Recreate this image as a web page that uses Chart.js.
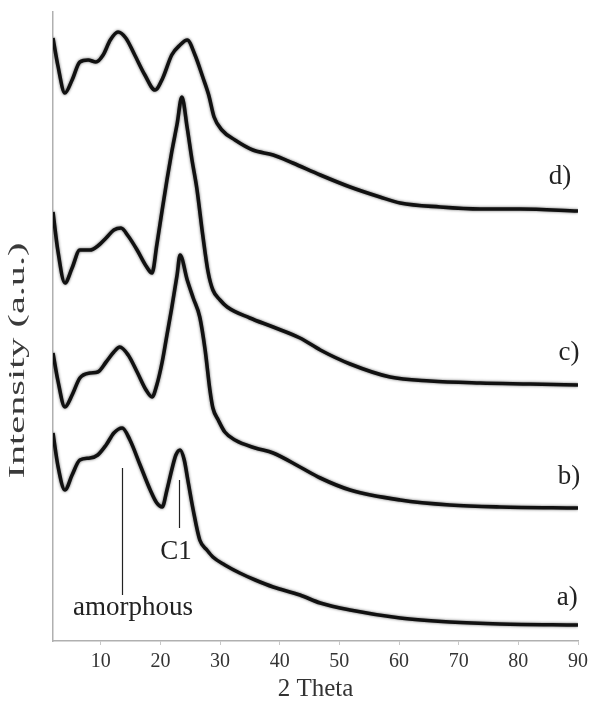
<!DOCTYPE html>
<html lang="en">
<head>
  <meta charset="UTF-8" />
  <title>DRX - 2 Theta</title>
  <script src="https://cdn.jsdelivr.net/npm/chart.js"></script>
  <style>
    body { margin: 0; background: #fff; }
    #caixa { width: 591px; height: 702px; }
  </style>
</head>
<body>
  <div id="caixa"><canvas id="grafico"></canvas></div>

<script>
  // valores (2 theta, intensidade em u.a.)
  const thetaA = [2.0, 2.8, 4.0, 5.2, 6.5, 8.2, 9.5, 10.9, 12.2, 13.6, 14.9, 16.6, 18.3, 19.4, 20.3, 21.1, 21.9, 22.6, 23.3, 24.0, 24.6, 25.5, 26.6, 27.8, 28.8, 30.8, 33.3, 35.9, 38.9, 43.4, 46.8, 51.8, 60.2, 68.5, 76.9, 90.0]
  const intA   = [208, 176, 151, 166, 181, 183, 186, 196, 208, 213, 201, 176, 151, 138, 134, 151, 171, 186, 191, 181, 161, 131, 101, 91, 84, 76, 68, 61, 54, 46, 38, 31, 23, 19, 17, 16]

  const thetaB = [2.0, 2.8, 4.0, 5.2, 6.5, 8.2, 9.5, 10.9, 12.2, 13.2, 14.6, 16.1, 17.6, 18.6, 19.4, 20.3, 21.1, 21.9, 22.8, 23.3, 24.5, 25.5, 26.6, 27.5, 28.3, 28.8, 29.7, 30.8, 32.5, 35.9, 38.9, 43.4, 46.8, 51.8, 60.2, 68.5, 76.9, 90.0]
  const intB   = [288, 261, 234, 246, 263, 268, 269, 279, 289, 294, 286, 269, 251, 244, 256, 279, 306, 333, 366, 386, 361, 343, 324, 291, 251, 233, 221, 209, 201, 193, 188, 174, 163, 151, 141, 136, 134, 133]

  const thetaC = [2.0, 2.8, 4.0, 5.2, 6.5, 8.2, 9.5, 10.9, 12.2, 13.4, 14.6, 16.1, 17.6, 18.6, 19.4, 20.3, 21.1, 21.9, 22.8, 23.6, 24.5, 25.3, 26.1, 27.1, 28.0, 28.8, 30.0, 31.2, 35.0, 38.9, 43.4, 46.8, 51.8, 58.5, 65.2, 73.6, 82.0, 90.0]
  const intC   = [429, 391, 358, 373, 391, 391, 395, 403, 411, 413, 405, 391, 375, 368, 396, 431, 461, 489, 517, 544, 513, 481, 453, 406, 369, 351, 341, 334, 323, 314, 303, 291, 277, 264, 260, 258, 257, 256]

  const thetaD = [2.0, 2.8, 4.0, 5.2, 6.5, 7.9, 9.2, 10.4, 11.6, 12.9, 14.2, 15.7, 17.4, 19.1, 20.4, 21.9, 23.3, 24.5, 25.8, 27.1, 28.1, 29.0, 30.3, 32.5, 35.5, 38.9, 42.2, 46.8, 51.8, 56.8, 60.2, 66.9, 73.6, 80.3, 90.0]
  const intD   = [603, 576, 548, 561, 579, 581, 579, 586, 601, 609, 603, 586, 566, 551, 563, 586, 596, 601, 586, 564, 546, 524, 511, 501, 491, 486, 478, 466, 454, 444, 438, 434, 432, 432, 430]

  const xTicks = [10, 20, 30, 40, 50, 60, 70, 80, 90]

  // rótulos das curvas (posição em 2 theta / intensidade)
  const rotulos      = ['a)', 'b)', 'c)', 'd)']
  const rotuloTheta  = [88.2, 88.5, 88.5, 87.0]
  const rotuloInt    = [43, 164, 288, 464]

  // marcações dos picos
  const picos        = ['amorphous', 'C1']
  const picoTheta    = [13.6, 23.1]
  const picoIntTopo  = [173, 161]
  const picoIntBase  = [46, 113]
  const picoTxtTheta = [15.4, 22.6]
  const picoTxtInt   = [33, 89]

  function montarPontos(xs, ys) {
    return xs.map((v, i) => ({ x: v, y: ys[i] }))
  }

  function serie(nome, xs, ys) {
    return {
      label: nome,
      data: montarPontos(xs, ys),
      borderColor: '#111',
      borderWidth: 3.6,
      pointRadius: 0,
      fill: false,
      cubicInterpolationMode: 'monotone'
    }
  }

  const fonteSerif = 'Liberation Serif'

  // sombra leve para imitar o traço "ruidoso" do original
  const sombra = {
    id: 'sombra',
    beforeDatasetDraw(chart) {
      const ctx = chart.ctx
      ctx.save()
      ctx.shadowColor = 'rgba(0,0,0,0.6)'
      ctx.shadowBlur = 3
    },
    afterDatasetDraw(chart) {
      chart.ctx.restore()
    }
  }

  const anotacoes = {
    id: 'anotacoes',
    afterDraw(chart) {
      const ctx = chart.ctx
      const sx = chart.scales.x
      const sy = chart.scales.y
      ctx.save()
      ctx.fillStyle = '#222'
      ctx.textAlign = 'center'
      ctx.textBaseline = 'middle'
      ctx.font = '27px "' + fonteSerif + '"'

      for (let i = 0; i < rotulos.length; i++) {
        ctx.fillText(rotulos[i], sx.getPixelForValue(rotuloTheta[i]), sy.getPixelForValue(rotuloInt[i]))
      }

      ctx.strokeStyle = '#222'
      ctx.lineWidth = 1.2
      for (let i = 0; i < picos.length; i++) {
        const px = Math.round(sx.getPixelForValue(picoTheta[i])) + 0.5
        ctx.beginPath()
        ctx.moveTo(px, sy.getPixelForValue(picoIntTopo[i]))
        ctx.lineTo(px, sy.getPixelForValue(picoIntBase[i]))
        ctx.stroke()
        ctx.fillText(picos[i], sx.getPixelForValue(picoTxtTheta[i]), sy.getPixelForValue(picoTxtInt[i]))
      }

      // título do eixo y (o original é bem alongado)
      const area = chart.chartArea
      ctx.translate(area.left - 35, (area.top + area.bottom) / 2 + 34)
      ctx.rotate(-Math.PI / 2)
      ctx.scale(1.75, 1)
      ctx.font = '23px "' + fonteSerif + '"'
      ctx.fillStyle = '#3a3a3a'
      ctx.fillText('Intensity (a.u.)', 0, 0)
      ctx.restore()
    }
  }

  new Chart(document.getElementById('grafico'), {
    type: 'line',
    data: {
      datasets: [
        serie('a', thetaA, intA),
        serie('b', thetaB, intB),
        serie('c', thetaC, intC),
        serie('d', thetaD, intD)
      ]
    },
    options: {
      responsive: true,
      maintainAspectRatio: false,
      animation: false,
      layout: { padding: { top: 12, right: 13, left: 0, bottom: 0 } },
      plugins: {
        legend: { display: false },
        tooltip: { enabled: false }
      },
      scales: {
        x: {
          type: 'linear',
          min: 2,
          max: 90,
          afterBuildTicks: s => { s.ticks = xTicks.map(v => ({ value: v })) },
          afterFit: s => {
            s.height = 61
            s.paddingLeft = 0
            s.paddingRight = 0
          },
          grid: { drawOnChartArea: false, tickLength: 4, color: '#c8c8c8' },
          border: { color: '#b0b0b0', width: 1.5 },
          ticks: {
            color: '#333',
            padding: 5,
            maxRotation: 0,
            font: { family: fonteSerif, size: 20 }
          },
          title: {
            display: true,
            text: '2 Theta',
            color: '#333',
            padding: { top: 0, bottom: 0 },
            font: { family: fonteSerif, size: 25, lineHeight: 1.0 }
          }
        },
        y: {
          min: 0,
          max: 629,
          afterFit: s => { s.width = 53 },
          grid: { drawOnChartArea: false, drawTicks: false },
          border: { color: '#b0b0b0', width: 1.5 },
          ticks: { display: false }
        }
      }
    },
    plugins: [sombra, anotacoes]
  })
</script>
</body>
</html>
